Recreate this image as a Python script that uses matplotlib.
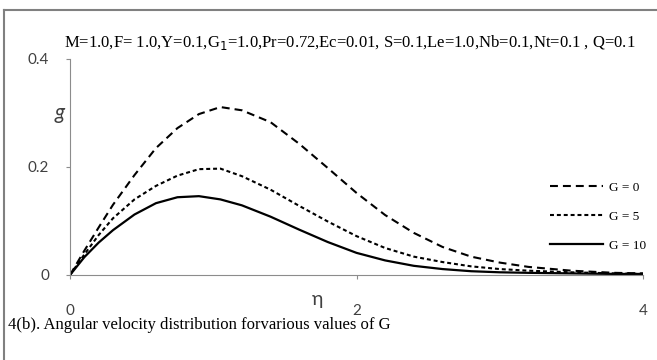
import numpy as np
import matplotlib
matplotlib.use("Agg")
import matplotlib.pyplot as plt
from matplotlib.lines import Line2D

# similarity variable and angular velocity profiles
eta = [0, 0.1, 0.2, 0.3, 0.45, 0.6, 0.75, 0.9, 1.05, 1.2, 1.4, 1.6, 1.8,
       2.0, 2.2, 2.4, 2.6, 2.8, 3.0, 3.2, 3.5, 3.8, 4.0]
g_G0 = [0, 0.045, 0.088, 0.130, 0.185, 0.235, 0.272, 0.298, 0.311, 0.305,
        0.283, 0.243, 0.198, 0.152, 0.111, 0.078, 0.052, 0.034, 0.023,
        0.015, 0.008, 0.004, 0.003]
g_G5 = [0, 0.038, 0.074, 0.105, 0.140, 0.165, 0.184, 0.196, 0.197, 0.183,
        0.158, 0.128, 0.099, 0.072, 0.050, 0.034, 0.024, 0.016, 0.011,
        0.008, 0.005, 0.003, 0.002]
g_G10 = [0, 0.033, 0.060, 0.083, 0.112, 0.133, 0.144, 0.146, 0.140, 0.129,
         0.108, 0.084, 0.061, 0.041, 0.027, 0.017, 0.011, 0.007, 0.005,
         0.004, 0.003, 0.002, 0.002]
labels = ["G = 0", "G = 5", "G = 10"]
xticks = [0, 2, 4]
yticks = [0, 0.2, 0.4]
ytick_labels = ["0", "0.2", "0.4"]

serif = "Liberation Serif"
sans = "Lato"

fig = plt.figure(figsize=(6.57, 3.6), dpi=100)
ax = fig.add_axes([70/657, 1 - 275/360, (643 - 70)/657, (275 - 59)/360])

ax.plot(eta, g_G0, color="black", lw=1.5, linestyle=(0, (3.8, 2.4)), label=labels[0])
ax.plot(eta, g_G5, color="black", lw=1.5, linestyle=(0, (1.9, 1.4)), label=labels[1])
ax.plot(eta, g_G10, color="black", lw=1.6, label=labels[2])

ax.set_xlim(0, 4)
ax.set_ylim(0, 0.4)
ax.set_xticks(xticks)
ax.set_xticklabels([str(t) for t in xticks])
ax.set_yticks(yticks)
ax.set_yticklabels(ytick_labels)
for s in ["top", "right"]:
    ax.spines[s].set_visible(False)
for s in ["left", "bottom"]:
    ax.spines[s].set_color("#8c8c8c")
    ax.spines[s].set_linewidth(0.8)
ax.tick_params(axis="both", colors="#8c8c8c", length=3, width=0.8,
               labelcolor="#404040", labelsize=11)
ax.tick_params(axis="x", pad=18)
ax.tick_params(axis="y", pad=12)
for lab in ax.get_xticklabels() + ax.get_yticklabels():
    lab.set_family(sans)

leg = ax.legend(loc="upper left", bbox_to_anchor=(538/657, 1 - 170/360),
                bbox_transform=fig.transFigure, frameon=False,
                handlelength=4.0, handletextpad=0.5, labelspacing=1.25,
                prop={"family": serif, "size": 9.5})

fig.text(64/657, 1 - 43/360,
         "M=1.0,F= 1.0,Y=0.1,G$_1$=1.0,Pr=0.72,Ec=0.01, S=0.1,Le=1.0,"
         "Nb=0.1,Nt=0.1 , Q=0.1",
         family=serif, size=12, va="center", ha="left")
fig.text(8/657, 1 - 325/360,
         "4(b). Angular velocity distribution forvarious values of G",
         family=serif, size=12, va="center", ha="left")
fig.text(60/657, 1 - 113/360, "g", family=sans, style="italic", size=15,
         va="center", ha="center", color="#404040")
fig.text(318/657, 1 - 300/360, "η", family=sans, size=14,
         va="center", ha="center", color="#404040")

# outer frame
fig.add_artist(Line2D([4/657, 4/657], [0, 1 - 10/360], transform=fig.transFigure,
                      color="#808080", lw=1.5))
fig.add_artist(Line2D([4/657, 1], [1 - 10/360, 1 - 10/360], transform=fig.transFigure,
                      color="#808080", lw=1.5))

fig.savefig("out.png", dpi=100)
